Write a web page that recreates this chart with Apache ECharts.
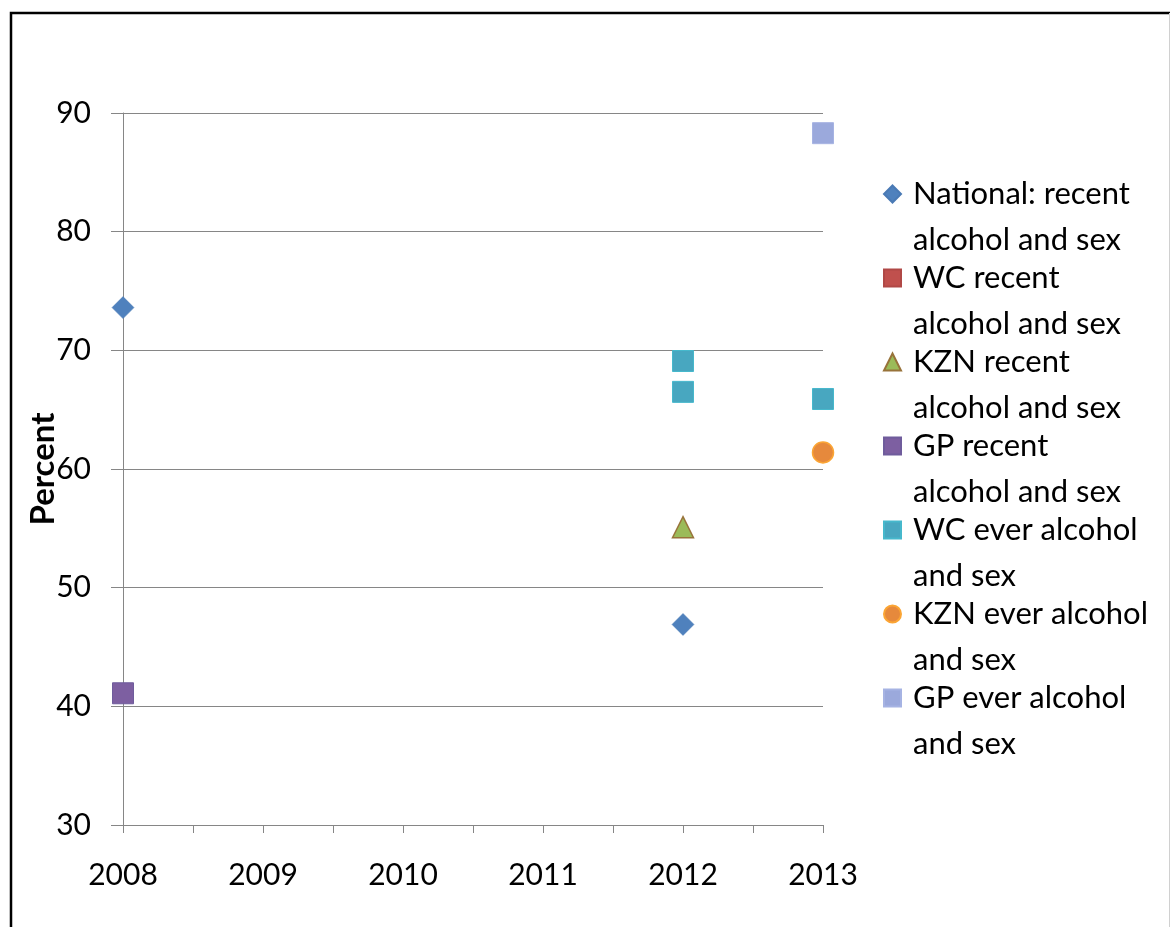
<!DOCTYPE html>
<html>
<head>
<meta charset="utf-8">
<script src="https://cdn.jsdelivr.net/npm/echarts@6/dist/echarts.min.js"></script>
<style>
html,body{margin:0;padding:0;background:#fff;}
#chart{width:1170px;height:927px;}
</style>
</head>
<body>
<div id="chart"></div>
<script>
// ---- data ----
const seriesNames = [
  "National: recent alcohol and sex",
  "WC recent alcohol and sex",
  "KZN recent alcohol and sex",
  "GP recent alcohol and sex",
  "WC ever alcohol and sex",
  "KZN ever alcohol and sex",
  "GP ever alcohol and sex"
];
const legendLabels = [
  "National: recent\nalcohol and sex",
  "WC recent\nalcohol and sex",
  "KZN recent\nalcohol and sex",
  "GP recent\nalcohol and sex",
  "WC ever alcohol\nand sex",
  "KZN ever alcohol\nand sex",
  "GP ever alcohol\nand sex"
];
const nationalRecent = [[2008, 73.6], [2012, 46.9]];
const wcRecent = [];
const kznRecent = [[2012, 55.1]];
const gpRecent = [[2008, 41.1]];
const wcEver = [[2012, 69.1], [2012, 66.5], [2013, 65.9]];
const kznEver = [[2013, 61.4]];
const gpEver = [[2013, 88.3]];
const yTicks = {min: 30, max: 90, interval: 10};
const xTicks = {min: 2008, max: 2013, interval: 1};

const FONT = 'Lato';
const chart = echarts.init(document.getElementById('chart'), null, {renderer: 'canvas'});

function mk(name, data, symbol, size, fill, border, bw) {
  return {
    name: name, type: 'scatter', data: data, symbol: symbol, symbolSize: size,
    itemStyle: {color: fill, borderColor: border, borderWidth: bw, opacity: 1},
    emphasis: {disabled: true}
  };
}

const option = {
  backgroundColor: '#fff',
  animation: false,
  textStyle: {fontFamily: FONT},
  grid: {left: 123, right: 1170 - 823, top: 113, bottom: 927 - 825, containLabel: false},
  xAxis: {
    type: 'value', min: xTicks.min, max: xTicks.max, interval: xTicks.interval,
    axisLine: {show: true, lineStyle: {color: '#868686', width: 1}},
    axisTick: {show: true, length: 8, lineStyle: {color: '#868686'}},
    minorTick: {show: true, splitNumber: 2, length: 8, lineStyle: {color: '#868686'}},
    splitLine: {show: false},
    axisLabel: {color: '#000', fontSize: 30, fontFamily: FONT, margin: 35, formatter: v => String(v)}
  },
  yAxis: {
    type: 'value', min: yTicks.min, max: yTicks.max, interval: yTicks.interval,
    name: 'Percent', nameLocation: 'middle', nameGap: 63, nameRotate: 90,
    nameMoveOverlap: false,
    nameTextStyle: {color: '#000', fontSize: 33, fontWeight: 'bold', fontFamily: FONT},
    axisLine: {show: true, lineStyle: {color: '#868686', width: 1}},
    axisTick: {show: true, length: 12, inside: false, lineStyle: {color: '#868686'}},
    splitLine: {show: true, lineStyle: {color: '#868686', width: 1}},
    axisLabel: {color: '#000', fontSize: 30, fontFamily: FONT, margin: 32}
  },
  legend: {
    orient: 'vertical', left: 883, top: 125, padding: 0, itemGap: -54,
    itemWidth: 17, itemHeight: 17,
    data: seriesNames,
    formatter: function (n) { return ' \n' + legendLabels[seriesNames.indexOf(n)]; },
    textStyle: {
      color: '#000', fontSize: 31, fontFamily: FONT, lineHeight: 46,
      padding: [0, 0, 0, 7]
    },
    selectedMode: false
  },
  graphic: [
    {type: 'polyline', shape: {points: [[11, 927], [11, 13], [1170, 13]]}, style: {stroke: '#000', lineWidth: 2.5, fill: null}, silent: true},
    {type: 'line', shape: {x1: 1169.5, y1: 13, x2: 1169.5, y2: 927}, style: {stroke: '#d0d0d0', lineWidth: 1}, silent: true}
  ],
  series: [
    mk(seriesNames[0], nationalRecent, 'diamond', 22, '#4F81BD', '#4A7AB5', 0.5),
    mk(seriesNames[1], wcRecent, 'rect', 21, '#C0504D', '#B04846', 0.5),
    mk(seriesNames[2], kznRecent, 'triangle', 21, '#9BBB59', '#98733A', 1.5),
    mk(seriesNames[3], gpRecent, 'rect', 21, '#7D5FA1', '#6F5C9C', 1),
    mk(seriesNames[4], wcEver, 'rect', 21, '#48A7C0', '#46B8CC', 1),
    mk(seriesNames[5], kznEver, 'circle', 21, '#E6893C', '#FBA534', 1.5),
    mk(seriesNames[6], gpEver, 'rect', 21, '#9BA9DC', '#A6B3E3', 1)
  ]
};
chart.setOption(option);
</script>
</body>
</html>
